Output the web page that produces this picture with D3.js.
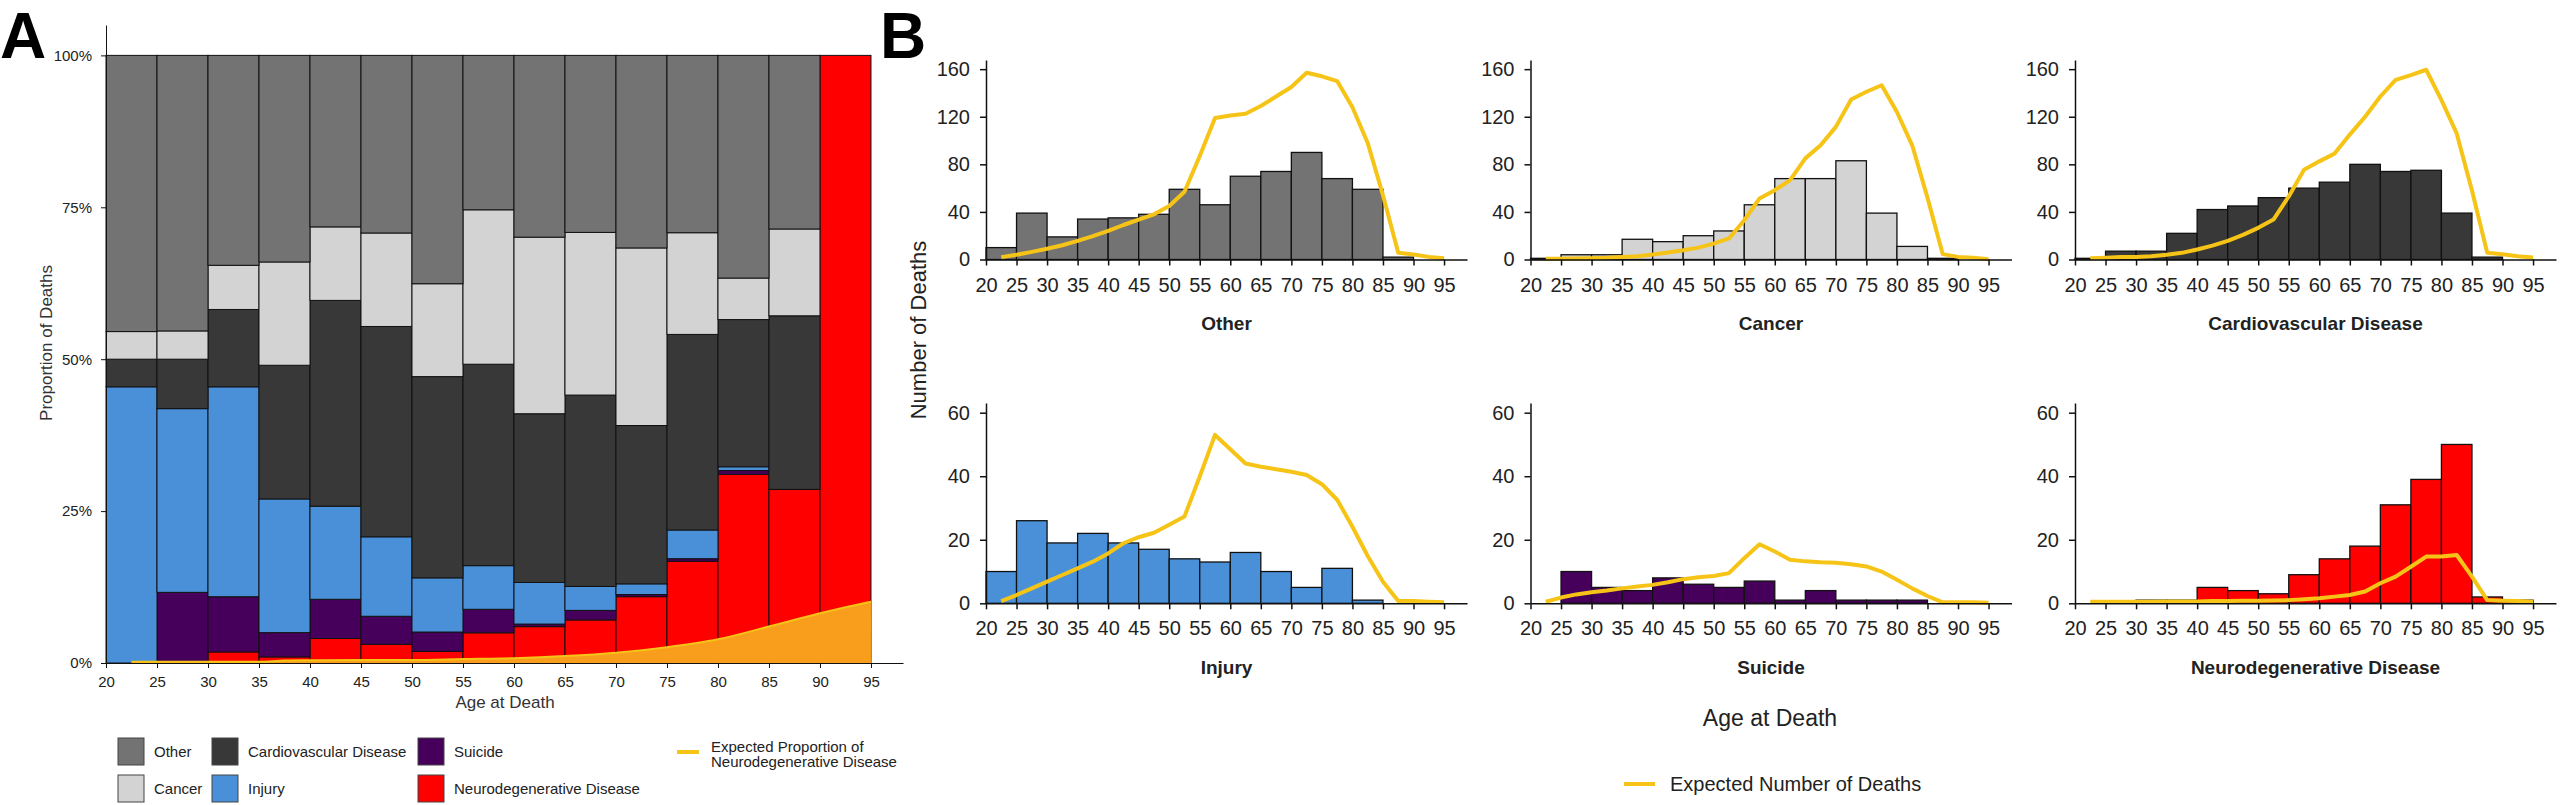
<!DOCTYPE html>
<html>
<head>
<meta charset="utf-8">
<style>
  body { margin: 0; background: #fff; }
  svg { display: block; font-family: "Liberation Sans", Arial, sans-serif; }
  .axis text { font-family: "Liberation Sans", Arial, sans-serif; fill: #222; }
  .axis path, .axis line { stroke: #111; }
  .axisA text { font-size: 15px; }
  .axisB text { font-size: 20px; }
</style>
</head>
<body>
<div class="chart"></div>
<script src="https://d3js.org/d3.v7.min.js"></script>
<script>
  // age bins (left edge of each 5-year bin)
  const ageBins = [20, 25, 30, 35, 40, 45, 50, 55, 60, 65, 70, 75, 80, 85, 90]
  const ageTicks = [20, 25, 30, 35, 40, 45, 50, 55, 60, 65, 70, 75, 80, 85, 90, 95]
  const propTicks = [0, 0.25, 0.5, 0.75, 1]
  const topTicks = [0, 40, 80, 120, 160]
  const bottomTicks = [0, 20, 40, 60]

  // observed number of deaths per bin
  const otherDeaths   = [10, 39, 19, 34, 35, 38, 59, 46, 70, 74, 90, 68, 59, 2, 0]
  const cancerDeaths  = [1, 4, 4, 17, 15, 20, 24, 46, 68, 68, 83, 39, 11, 1, 0]
  const cvdDeaths     = [1, 7, 7, 22, 42, 45, 52, 60, 65, 80, 74, 75, 39, 2, 0]
  const injuryDeaths  = [10, 26, 19, 22, 19, 17, 14, 13, 16, 10, 5, 11, 1, 0, 0]
  const suicideDeaths = [0, 10, 5, 4, 8, 6, 5, 7, 1, 4, 1, 1, 1, 0, 0]
  const neuroDeaths   = [0, 0, 1, 1, 5, 4, 3, 9, 14, 18, 31, 39, 50, 2, 1]

  // expected number of deaths (yellow lines)
  const expAges = [22.5, 25, 27.5, 30, 32.5, 35, 37.5, 40, 42.5, 45, 47.5, 50, 52.5, 55, 57.5,
                   60, 62.5, 65, 67.5, 70, 72.5, 75, 77.5, 80, 82.5, 85, 87.5, 90, 92.5, 95]
  const expOther   = [2, 4, 6.4, 9, 12, 15.7, 19.6, 24, 29, 33.6, 38, 45, 57, 87, 119,
                      121, 122.5, 129, 137, 145, 157, 154, 150, 128, 98, 54, 5.6, 4.2, 2.2, 1.1]
  const expCancer  = [0.6, 0.7, 0.8, 1.1, 1.4, 2, 2.8, 4.2, 5.9, 7.8, 10, 13.4, 17.7, 33, 51.3,
                      58.3, 66.7, 85, 96, 111.5, 134.5, 141, 146.5, 124, 96, 52, 4.5, 2.2, 1.4, 0.3]
  const expCvd     = [1, 1.4, 2, 2.2, 2.8, 4, 5.6, 8.4, 11.7, 15.7, 20.7, 26.6, 33.6, 53, 75.5,
                      82.5, 89, 105, 120, 137, 151, 155, 159.5, 134, 106, 58, 5.6, 4.5, 2.8, 1.7]
  const expInjury  = [0.7, 2.6, 4.7, 6.8, 8.9, 11, 13.1, 15.7, 18.9, 20.8, 22.2, 24.7, 27.3, 39.9, 53,
                      48.5, 44, 43, 42.2, 41.4, 40.4, 37.5, 32.6, 24.1, 14.9, 6.8, 0.7, 0.7, 0.5, 0.3]
  const expSuicide = [0.5, 1.8, 2.8, 3.5, 4, 4.7, 5.3, 5.8, 6.6, 7.6, 8.2, 8.6, 9.5, 14.2, 18.6,
                      16.3, 13.7, 13.2, 12.9, 12.8, 12.3, 11.6, 10, 7.4, 4.7, 2.3, 0.3, 0.3, 0.3, 0.2]
  const expNeuro   = [0.5, 0.5, 0.5, 0.5, 0.5, 0.6, 0.6, 0.6, 0.7, 0.7, 0.8, 0.8, 0.9, 1, 1.3,
                      1.6, 2.1, 2.6, 3.7, 6.3, 8.4, 11.5, 14.7, 14.7, 15.2, 8.4, 1, 0.8, 0.7, 0.5]

  // expected proportion of neurodegenerative disease (panel A)
  const expPropAges = [22.5, 25, 30, 35, 37.5, 40, 45, 50, 55, 60, 65, 70, 75, 80, 85, 90, 95]
  const expProp     = [0.002, 0.002, 0.002, 0.002, 0.004, 0.0045, 0.005, 0.005, 0.0065, 0.008,
                       0.0115, 0.017, 0.026, 0.039, 0.060, 0.082, 0.101]

  const colors = {
    other: '#737373', cancer: '#d3d3d3', cvd: '#383838',
    injury: '#4a90d9', suicide: '#46005c', neuro: '#ff0000'
  }
  const lineColor = '#f6c417'
  const areaColor = '#f99d1c'

  const svg = d3.select('.chart')
                .append('svg')
                .attr('width', 2560)
                .attr('height', 805)

  svg.append('rect').attr('width', 2560).attr('height', 805).attr('fill', '#fff')

  // ===== Panel A: stacked proportions =====
  const xA = d3.scaleLinear().domain([20, 98.14]).range([106, 903])
  const yA = d3.scaleLinear().domain([0, 1.05]).range([663, 25])

  const rowsA = ageBins.map((a, i) => ({
    age: a,
    neuro: neuroDeaths[i], suicide: suicideDeaths[i], injury: injuryDeaths[i],
    cvd: cvdDeaths[i], cancer: cancerDeaths[i], other: otherDeaths[i]
  }))
  const stackKeys = ['neuro', 'suicide', 'injury', 'cvd', 'cancer', 'other']
  const series = d3.stack().keys(stackKeys).offset(d3.stackOffsetExpand)(rowsA)

  svg.append('g')
     .selectAll('g')
     .data(series)
     .join('g')
     .attr('fill', d => colors[d.key])
     .selectAll('rect')
     .data(d => d)
     .join('rect')
     .attr('x', d => xA(d.data.age))
     .attr('width', d => xA(d.data.age + 5) - xA(d.data.age))
     .attr('y', d => yA(d[1]))
     .attr('height', d => yA(d[0]) - yA(d[1]))
     .attr('stroke', '#111')
     .attr('stroke-width', 1)

  // expected proportion area + line
  const propPts = expPropAges.map((a, i) => [a, expProp[i]])
  svg.append('path')
     .datum(propPts)
     .attr('fill', areaColor)
     .attr('d', d3.area().x(d => xA(d[0])).y0(yA(0)).y1(d => yA(d[1])).curve(d3.curveMonotoneX))
  svg.append('path')
     .datum(propPts)
     .attr('fill', 'none')
     .attr('stroke', lineColor)
     .attr('stroke-width', 2)
     .attr('d', d3.line().x(d => xA(d[0])).y(d => yA(d[1])).curve(d3.curveMonotoneX))

  svg.append('g')
     .attr('class', 'axis axisA')
     .attr('transform', `translate(0, ${yA(0)})`)
     .call(d3.axisBottom(xA).tickValues(ageTicks).tickSize(5).tickPadding(8).tickSizeOuter(0))
  svg.append('g')
     .attr('class', 'axis axisA')
     .attr('transform', `translate(${xA(20)}, 0)`)
     .call(d3.axisLeft(yA).tickValues(propTicks).tickFormat(d3.format('.0%')).tickSize(5).tickPadding(9).tickSizeOuter(0))

  svg.append('text')
     .attr('transform', 'translate(46, 343) rotate(-90)')
     .attr('text-anchor', 'middle')
     .attr('dy', '0.35em')
     .attr('font-size', 17)
     .attr('fill', '#333')
     .text('Proportion of Deaths')
  svg.append('text')
     .attr('x', 505).attr('y', 708)
     .attr('text-anchor', 'middle')
     .attr('font-size', 17)
     .attr('fill', '#333')
     .text('Age at Death')

  // legend A
  const legendA = [
    { key: 'other', label: 'Other', col: 0, row: 0 },
    { key: 'cvd', label: 'Cardiovascular Disease', col: 1, row: 0 },
    { key: 'suicide', label: 'Suicide', col: 2, row: 0 },
    { key: 'cancer', label: 'Cancer', col: 0, row: 1 },
    { key: 'injury', label: 'Injury', col: 1, row: 1 },
    { key: 'neuro', label: 'Neurodegenerative Disease', col: 2, row: 1 }
  ]
  const legColX = [118, 212, 418], legRowY = [738, 775]
  const legA = svg.append('g').selectAll('g').data(legendA).join('g')
                  .attr('transform', d => `translate(${legColX[d.col]}, ${legRowY[d.row]})`)
  legA.append('rect')
      .attr('width', 26).attr('height', 27)
      .attr('fill', d => colors[d.key])
      .attr('stroke', '#444').attr('stroke-width', 1)
  legA.append('text')
      .attr('x', 36).attr('y', 13.5).attr('dy', '0.35em')
      .attr('font-size', 15).attr('fill', '#222')
      .text(d => d.label)

  svg.append('line')
     .attr('x1', 677).attr('x2', 699).attr('y1', 752).attr('y2', 752)
     .attr('stroke', lineColor).attr('stroke-width', 4)
  svg.append('text')
     .attr('x', 711).attr('y', 747).attr('dy', '0.35em')
     .attr('font-size', 15).attr('fill', '#222')
     .text('Expected Proportion of')
  svg.append('text')
     .attr('x', 711).attr('y', 762).attr('dy', '0.35em')
     .attr('font-size', 15).attr('fill', '#222')
     .text('Neurodegenerative Disease')

  // ===== Panel B: facets of counts =====
  const facets = [
    { name: 'Other', key: 'other', deaths: otherDeaths, expected: expOther, row: 0, col: 0 },
    { name: 'Cancer', key: 'cancer', deaths: cancerDeaths, expected: expCancer, row: 0, col: 1 },
    { name: 'Cardiovascular Disease', key: 'cvd', deaths: cvdDeaths, expected: expCvd, row: 0, col: 2 },
    { name: 'Injury', key: 'injury', deaths: injuryDeaths, expected: expInjury, row: 1, col: 0 },
    { name: 'Suicide', key: 'suicide', deaths: suicideDeaths, expected: expSuicide, row: 1, col: 1 },
    { name: 'Neurodegenerative Disease', key: 'neuro', deaths: neuroDeaths, expected: expNeuro, row: 1, col: 2 }
  ]
  const colX = [986, 1530.5, 2075]
  const plotW = 481
  const rowBase = [259.5, 603.3], rowTop = [60, 403]
  const rowMax = [167.7, 63.05]
  const rowTicks = [topTicks, bottomTicks]
  const titleY = [330, 674]

  facets.forEach(f => {
    const x = d3.scaleLinear().domain([20, 98.76]).range([colX[f.col], colX[f.col] + plotW])
    const y = d3.scaleLinear().domain([0, rowMax[f.row]]).range([rowBase[f.row], rowTop[f.row]])
    const g = svg.append('g')

    const bins = ageBins.map((a, i) => ({ age: a, n: f.deaths[i] })).filter(d => d.n > 0)
    g.append('g')
     .selectAll('rect')
     .data(bins)
     .join('rect')
     .attr('x', d => x(d.age))
     .attr('width', d => x(d.age + 5) - x(d.age))
     .attr('y', d => y(d.n))
     .attr('height', d => y(0) - y(d.n))
     .attr('fill', colors[f.key])
     .attr('stroke', '#111')
     .attr('stroke-width', 1.3)

    g.append('path')
     .datum(expAges.map((a, i) => [a, f.expected[i]]))
     .attr('fill', 'none')
     .attr('stroke', lineColor)
     .attr('stroke-width', 4)
     .attr('stroke-linejoin', 'round')
     .attr('d', d3.line().x(d => x(d[0])).y(d => y(d[1])))

    g.append('g')
     .attr('class', 'axis axisB')
     .attr('transform', `translate(0, ${y(0)})`)
     .call(d3.axisBottom(x).tickValues(ageTicks).tickSize(6).tickPadding(12).tickSizeOuter(0))
     .selectAll('path, line').attr('stroke-width', 1.5)
    g.append('g')
     .attr('class', 'axis axisB')
     .attr('transform', `translate(${x(20)}, 0)`)
     .call(d3.axisLeft(y).tickValues(rowTicks[f.row]).tickSize(6).tickPadding(10).tickSizeOuter(0))
     .selectAll('path, line').attr('stroke-width', 1.5)

    g.append('text')
     .attr('x', colX[f.col] + plotW / 2).attr('y', titleY[f.row])
     .attr('text-anchor', 'middle')
     .attr('font-size', 19).attr('font-weight', 'bold').attr('fill', '#222')
     .text(f.name)
  })

  svg.append('text')
     .attr('transform', 'translate(918, 330) rotate(-90)')
     .attr('text-anchor', 'middle')
     .attr('dy', '0.35em')
     .attr('font-size', 22)
     .attr('fill', '#222')
     .text('Number of Deaths')
  svg.append('text')
     .attr('x', 1770).attr('y', 726)
     .attr('text-anchor', 'middle')
     .attr('font-size', 23)
     .attr('fill', '#222')
     .text('Age at Death')

  // legend B
  svg.append('line')
     .attr('x1', 1624).attr('x2', 1655).attr('y1', 784).attr('y2', 784)
     .attr('stroke', lineColor).attr('stroke-width', 4)
  svg.append('text')
     .attr('x', 1670).attr('y', 784).attr('dy', '0.35em')
     .attr('font-size', 20).attr('fill', '#222')
     .text('Expected Number of Deaths')

  // panel letters (kept inside the top edge)
  svg.append('text')
     .attr('x', 0).attr('y', 58)
     .attr('font-size', 64).attr('font-weight', 'bold')
     .text('A')
  svg.append('text')
     .attr('x', 880).attr('y', 58)
     .attr('font-size', 64).attr('font-weight', 'bold')
     .text('B')
</script>
</body>
</html>
